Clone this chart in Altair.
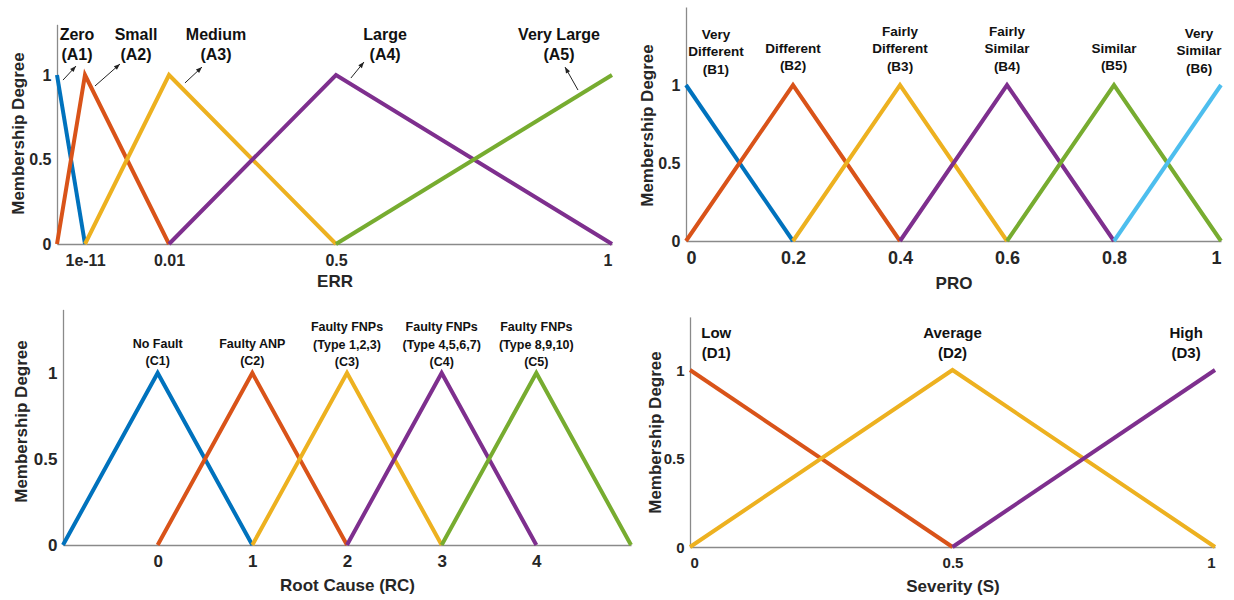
import math

import altair as alt
import numpy as np
import pandas as pd

W, H = 1234, 600
FONT = "Liberation Sans"
INK = "#262626"

# MATLAB-style line colours
C_BLUE = "#0072BD"
C_RED = "#D95319"
C_YELLOW = "#EDB120"
C_PURPLE = "#7E2F8E"
C_GREEN = "#77AC30"
C_CYAN = "#4DBEEE"

# ---------------- ERR (error rate) ----------------
ERR_SETS = ["Zero\n(A1)", "Small\n(A2)", "Medium\n(A3)", "Large\n(A4)", "Very Large\n(A5)"]
ERR_X = [[0, 1e-11], [0, 1e-11, 0.01], [1e-11, 0.01, 0.5], [0.01, 0.5, 1], [0.5, 1]]
ERR_MU = [[1, 0], [0, 1, 0], [0, 1, 0], [0, 1, 0], [0, 1]]
ERR_COLORS = [C_BLUE, C_RED, C_YELLOW, C_PURPLE, C_GREEN]
ERR_TICKS = [1e-11, 0.01, 0.5, 1]
# anchor of the first line of each name
ERR_LABEL_X = [0.714e-11, 0.00607, 0.148, 0.589, 0.904]
ERR_LABEL_MU = [1.237, 1.237, 1.237, 1.237, 1.237]
# arrows from each curve to its name: tail and head
ERR_ARROW_X = [0.214e-11, 0.00119, 0.0569, 0.527, 0.9384]
ERR_ARROW_MU = [0.970, 0.935, 0.953, 0.982, 0.911]
ERR_ARROW_X2 = [0.679e-11, 0.004167, 0.1068, 0.5507, 0.9149]
ERR_ARROW_MU2 = [1.053, 1.065, 1.047, 1.077, 1.047]

# ---------------- PRO (similarity) ----------------
PRO_SETS = ["Very\nDifferent\n(B1)", "Different\n(B2)", "Fairly\nDifferent\n(B3)",
            "Fairly\nSimilar\n(B4)", "Similar\n(B5)", "Very\nSimilar\n(B6)"]
PRO_X = [[0, 0.2], [0, 0.2, 0.4], [0.2, 0.4, 0.6], [0.4, 0.6, 0.8], [0.6, 0.8, 1], [0.8, 1]]
PRO_MU = [[1, 0], [0, 1, 0], [0, 1, 0], [0, 1, 0], [0, 1, 0], [0, 1]]
PRO_COLORS = [C_BLUE, C_RED, C_YELLOW, C_PURPLE, C_GREEN, C_CYAN]
PRO_TICKS = [0, 0.2, 0.4, 0.6, 0.8, 1]
PRO_LABEL_X = [0.056, 0.2, 0.4, 0.6, 0.8, 0.959]
PRO_LABEL_MU = [1.321, 1.231, 1.340, 1.340, 1.231, 1.327]

# ---------------- RC (root cause) ----------------
RC_SETS = ["No Fault\n(C1)", "Faulty ANP\n(C2)", "Faulty FNPs\n(Type 1,2,3)\n(C3)",
           "Faulty FNPs\n(Type 4,5,6,7)\n(C4)", "Faulty FNPs\n(Type 8,9,10)\n(C5)"]
RC_X = [[-1, 0, 1], [0, 1, 2], [1, 2, 3], [2, 3, 4], [3, 4, 5]]
RC_MU = [[0, 1, 0], [0, 1, 0], [0, 1, 0], [0, 1, 0], [0, 1, 0]]
RC_COLORS = [C_BLUE, C_RED, C_YELLOW, C_PURPLE, C_GREEN]
RC_TICKS = [0, 1, 2, 3, 4]
RC_LABEL_X = [0, 1, 2, 3, 4]
RC_LABEL_MU = [1.169, 1.169, 1.267, 1.267, 1.267]

# ---------------- S (severity) ----------------
S_SETS = ["Low\n(D1)", "Average\n(D2)", "High\n(D3)"]
S_X = [[0, 0.5], [0, 0.5, 1], [0.5, 1]]
S_MU = [[1, 0], [0, 1, 0], [0, 1]]
S_COLORS = [C_RED, C_YELLOW, C_PURPLE]
S_TICKS = [0, 0.5, 1]
S_LABEL_X = [0.05, 0.5, 0.945]
S_LABEL_MU = [1.209, 1.209, 1.209]

# Panel geometry (pixels) and typography
LAYOUT = {
    "err": dict(x_domain=[0, 1e-11, 0.01, 0.5, 1], x_range=[57, 85, 169, 336, 612],
                y0=244, unit=169, y_max=1.3, x_title="ERR", x_title_dy=37,
                y_title_dx=-39, y_title_y=133, x_tick_fs=16, y_tick_fs=16,
                ann_fs=16, ann_lh=20),
    "pro": dict(x_domain=[0, 1], x_range=[686, 1221],
                y0=241, unit=156, y_max=1.5, x_title="PRO", x_title_dy=42,
                y_title_dx=-39, y_title_y=125, x_tick_fs=18, y_tick_fs=16,
                ann_fs=13.5, ann_lh=17.5),
    "rc": dict(x_domain=[-1, 5], x_range=[63, 631],
               y0=545, unit=172, y_max=1.37, x_title="Root Cause (RC)", x_title_dy=40,
               y_title_dx=-42, y_title_y=421, x_tick_fs=17, y_tick_fs=17,
               ann_fs=12.5, ann_lh=17.5),
    "s": dict(x_domain=[0, 1], x_range=[690, 1215],
              y0=547, unit=177, y_max=1.3, x_title="Severity (S)", x_title_dy=39,
              y_title_dx=-35, y_title_y=432, x_tick_fs=15, y_tick_fs=15,
              ann_fs=15, ann_lh=20),
}

# arrowhead glyph: tip at the symbol origin, pointing up before rotation
ARROW_PATH = "M0,0L-0.38,1L0.38,1Z"


def curve_frame(names, xs, mus, colors):
    rows = []
    for name, xv, mv, col in zip(names, xs, mus, colors):
        for i, (x, m) in enumerate(zip(xv, mv)):
            rows.append({"set": name, "i": i, "x": x, "mu": m, "color": col})
    return pd.DataFrame(rows)


def encodings(L, ticks):
    y_range = [L["y0"], L["y0"] - L["y_max"] * L["unit"]]
    x = alt.X(
        "x:Q",
        scale=alt.Scale(domain=L["x_domain"], range=L["x_range"], nice=False, zero=False),
        axis=alt.Axis(
            orient="bottom", offset=L["y0"] - H, values=ticks, format="~g",
            title=L["x_title"], titleX=(L["x_range"][0] + L["x_range"][-1]) / 2,
            titleY=L["x_title_dy"], titleBaseline="middle",
            labelFontSize=L["x_tick_fs"], labelPadding=8,
        ),
    )
    y = alt.Y(
        "mu:Q",
        scale=alt.Scale(domain=[0, L["y_max"]], range=y_range, nice=False, zero=False),
        axis=alt.Axis(
            orient="left", offset=-L["x_range"][0], values=[0, 0.5, 1], format="~g",
            title="Membership Degree", titleX=L["y_title_dx"], titleY=L["y_title_y"],
            titleAngle=270, titleBaseline="middle",
            labelFontSize=L["y_tick_fs"], labelPadding=6,
        ),
    )
    return x, y


def panel(key, names, xs, mus, colors, ticks, label_x, label_mu, arrows=None):
    L = LAYOUT[key]
    xe, ye = encodings(L, ticks)
    curves = curve_frame(names, xs, mus, colors)
    lines = alt.Chart(curves).mark_line(strokeWidth=4, strokeJoin="miter").encode(
        x=xe, y=ye, color=alt.Color("color:N", scale=None), detail="set:N", order="i:Q"
    )
    labels = pd.DataFrame({"x": label_x, "mu": label_mu, "text": names})
    text = alt.Chart(labels).mark_text(
        font=FONT, fontWeight="bold", fontSize=L["ann_fs"], lineHeight=L["ann_lh"],
        lineBreak="\n", align="center", baseline="middle", color="#111111",
    ).encode(x=xe, y=ye, text="text:N")
    layers = [lines, text]
    if arrows is not None:
        ax, amu, ax2, amu2 = arrows
        px = lambda v: float(np.interp(v, L["x_domain"], L["x_range"]))
        py = lambda v: L["y0"] - v * L["unit"]
        angles = []
        for a, b, c, d in zip(ax, amu, ax2, amu2):
            dx, dy = px(c) - px(a), py(d) - py(b)
            angles.append(math.degrees(math.atan2(dx, -dy)) % 360)
        shafts = pd.DataFrame({"x": ax, "mu": amu, "x2": ax2, "mu2": amu2})
        heads = pd.DataFrame({"x": ax2, "mu": amu2, "angle": angles})
        rule = alt.Chart(shafts).mark_rule(strokeWidth=1, color="#222222").encode(
            x=xe, y=ye, x2="x2:Q", y2="mu2:Q"
        )
        head = alt.Chart(heads).mark_point(
            shape=ARROW_PATH, filled=True, size=150, color="#222222", opacity=1, strokeWidth=0
        ).encode(x=xe, y=ye, angle=alt.Angle("angle:Q", scale=None))
        layers += [rule, head]
    return alt.layer(*layers)


p_err = panel("err", ERR_SETS, ERR_X, ERR_MU, ERR_COLORS, ERR_TICKS, ERR_LABEL_X, ERR_LABEL_MU,
              arrows=(ERR_ARROW_X, ERR_ARROW_MU, ERR_ARROW_X2, ERR_ARROW_MU2))
p_pro = panel("pro", PRO_SETS, PRO_X, PRO_MU, PRO_COLORS, PRO_TICKS, PRO_LABEL_X, PRO_LABEL_MU)
p_rc = panel("rc", RC_SETS, RC_X, RC_MU, RC_COLORS, RC_TICKS, RC_LABEL_X, RC_LABEL_MU)
p_s = panel("s", S_SETS, S_X, S_MU, S_COLORS, S_TICKS, S_LABEL_X, S_LABEL_MU)

chart = (
    alt.layer(p_err, p_pro, p_rc, p_s)
    .resolve_scale(x="independent", y="independent")
    .resolve_axis(x="independent", y="independent")
    .properties(width=W, height=H, autosize=alt.AutoSizeParams(type="none"), padding=0,
                background="white")
    .configure_view(stroke=None)
    .configure_axis(
        labelFont=FONT, labelFontWeight="bold", labelColor=INK,
        titleFont=FONT, titleFontWeight="bold", titleFontSize=17, titleColor=INK,
        domainColor="#8a8a8a", domainWidth=1.3, ticks=False, grid=False,
    )
)

chart.save("out.html", embed_options={"renderer": "svg", "actions": False})
